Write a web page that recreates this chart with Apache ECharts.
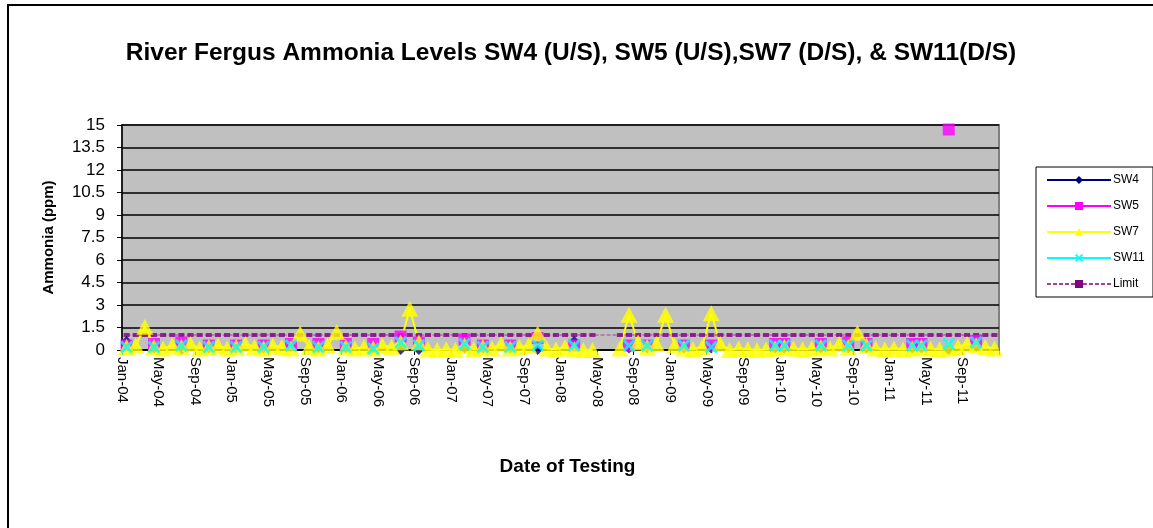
<!DOCTYPE html>
<html>
<head>
<meta charset="utf-8">
<title>River Fergus Ammonia Levels</title>
<script src="https://cdn.jsdelivr.net/npm/echarts@6/dist/echarts.min.js"></script>
<style>
  html, body { margin: 0; padding: 0; background: #fff; }
  #chart { width: 1153px; height: 528px; }
</style>
</head>
<body>
<div id="chart"></div>
<script>
// x values are months counted from Jan-04 (0 = Jan-04, 96 = Jan-12)
var xTickLabels = ['Jan-04', 'May-04', 'Sep-04', 'Jan-05', 'May-05', 'Sep-05', 'Jan-06', 'May-06',
    'Sep-06', 'Jan-07', 'May-07', 'Sep-07', 'Jan-08', 'May-08', 'Sep-08', 'Jan-09',
    'May-09', 'Sep-09', 'Jan-10', 'May-10', 'Sep-10', 'Jan-11', 'May-11', 'Sep-11'];

// quarterly-ish sampling for SW4, SW5, SW11
var qMonths = [0.5, 3.5, 6.5, 9.5, 12.5, 15.5, 18.5, 21.5, 24.5, 27.5, 30.5, 32.5, 37.5, 39.5, 42.5,
    45.5, 49.5, 55.5, 57.5, 61.5, 64.5, 71.5, 72.5, 76.5, 79.5, 81.5, 86.5, 87.5, 90.5, 93.5];

var sw4Values = [0.6, 0.1, 0.0, 0.1, 0.1, 0.1, 0.2, 0.1, 0.1, 0.1, 0.0, 0.0, 0.1, 0.1, 0.1,
    0.0, 0.6, 0.1, 0.1, 0.1, 0.1, 0.1, 0.1, 0.1, 0.1, 0.1, 0.1, 0.1, 0.0, 0.2];

var sw5Values = [0.3, 0.4, 0.5, 0.3, 0.3, 0.3, 0.4, 0.4, 0.4, 0.4, 0.9, 0.5, 0.7, 0.3, 0.3,
    0.8, 0.3, 0.3, 0.3, 0.3, 0.3, 0.4, 0.4, 0.4, 0.5, 0.4, 0.4, 0.4, 14.7, 0.6];

var sw11Values = [0.2, 0.2, 0.3, 0.2, 0.2, 0.2, 0.3, 0.2, 0.2, 0.1, 0.5, 0.3, 0.4, 0.2, 0.2,
    0.3, 0.3, 0.3, 0.3, 0.3, 0.2, 0.3, 0.3, 0.3, 0.3, 0.3, 0.3, 0.3, 0.4, 0.5];

// SW7 sampled roughly monthly
var sw7Months = [0.5, 1.5, 2.5, 3.5, 4.5, 5.5, 6.5, 7.5, 8.5, 9.5, 10.5, 11.5, 12.5, 13.5, 14.5,
    15.5, 16.5, 17.5, 18.5, 19.5, 20.5, 21.5, 22.5, 23.5, 24.5, 25.5, 26.5, 27.5, 28.5, 29.5,
    30.5, 31.5, 32.5, 33.5, 34.5, 35.5, 36.5, 37.5, 38.5, 39.5, 40.5, 41.5, 42.5, 43.5, 44.5,
    45.5, 46.5, 47.5, 48.5, 49.5, 50.5, 51.5, 54.5, 55.5, 56.5, 57.5, 58.5, 59.5, 60.5, 61.5,
    62.5, 63.5, 64.5, 65.5, 66.5, 67.5, 68.5, 69.5, 70.5, 71.5, 72.5, 73.5, 74.5, 75.5, 76.5,
    77.5, 78.5, 79.5, 80.5, 81.5, 82.5, 83.5, 84.5, 85.5, 86.5, 87.5, 88.5, 89.5, 90.5, 91.5,
    92.5, 93.5, 94.5, 95.5];

var sw7Values = [0.2, 0.3, 1.55, 0.2, 0.1, 0.3, 0.2, 0.4, 0.1, 0.2, 0.3, 0.1, 0.2, 0.4, 0.2,
    0.1, 0.3, 0.2, 0.1, 1.1, 0.2, 0.1, 0.3, 1.2, 0.2, 0.1, 0.2, 0.1, 0.3, 0.2,
    0.5, 2.75, 0.5, 0.05, 0.0, 0.05, 0.0, 0.3, 0.05, 0.2, 0.1, 0.4, 0.1, 0.2, 0.3,
    1.1, 0.1, 0.05, 0.2, 0.05, 0.0, 0.0, 0.1, 2.35, 0.5, 0.2, 0.4, 2.35, 0.3, 0.1,
    0.05, 0.2, 2.45, 0.4, 0.0, 0.1, 0.05, 0.0, 0.05, 0.1, 0.2, 0.1, 0.05, 0.1, 0.2,
    0.1, 0.4, 0.2, 1.15, 0.3, 0.1, 0.05, 0.1, 0.05, 0.1, 0.2, 0.1, 0.05, 0.1, 0.2,
    0.4, 0.3, 0.2, 0.1];

var limitLevel = 1.0;

var FONT = 'Liberation Sans';

// rows without a reading are blank in the sheet, so the line breaks across them
function withBreaks(xs, ys) {
    var out = [];
    for (var i = 0; i < xs.length; i++) {
        if (i > 0 && xs[i] - xs[i - 1] > 1.5) out.push([(xs[i] + xs[i - 1]) / 2, '-']);
        out.push([xs[i], ys[i]]);
    }
    return out;
}

var limitData = [];
for (var j = 0; j < sw7Months.length; j++) limitData.push([sw7Months[j], limitLevel]);

var crossPath = 'path://M0,1.6 L1.6,0 L5,3.4 L8.4,0 L10,1.6 L6.6,5 L10,8.4 L8.4,10 L5,6.6 L1.6,10 L0,8.4 L3.4,5 Z';

var stations = [
    {name: 'SW4', data: withBreaks(qMonths, sw4Values), color: '#000080', symbol: 'diamond', size: 10},
    {name: 'SW5', data: withBreaks(qMonths, sw5Values), color: '#FF00FF', symbol: 'rect', size: 12},
    {name: 'SW7', data: withBreaks(sw7Months, sw7Values), color: '#FFFF00', symbol: 'triangle', size: [17, 16]},
    {name: 'SW11', data: withBreaks(qMonths, sw11Values), color: '#00FFFF', symbol: crossPath, size: 13}
];

// lines first (like Excel), then markers on top of all lines
var series = [];
stations.forEach(function (s) {
    series.push({
        name: s.name, type: 'line', data: s.data, z: 2, connectNulls: false,
        symbol: s.symbol, symbolSize: s.size, showSymbol: false,
        lineStyle: {color: s.color, width: 2},
        itemStyle: {color: s.color}
    });
});
series.push({
    name: 'Limit', type: 'line', data: limitData, z: 2,
    symbol: 'rect', symbolSize: [6, 4], showSymbol: false,
    lineStyle: {color: '#A040A0', width: 1, type: [4, 2]},
    itemStyle: {color: '#800080'}
});
series.push({
    name: 'Limit', type: 'scatter', data: limitData, z: 3,
    symbol: 'rect', symbolSize: [6, 4],
    itemStyle: {color: '#800080'}
});
stations.forEach(function (s) {
    series.push({
        name: s.name, type: 'scatter', data: s.data, z: 3,
        symbol: s.symbol, symbolSize: s.size,
        itemStyle: {color: s.color}
    });
});

var chart = echarts.init(document.getElementById('chart'), null, {renderer: 'canvas'});

chart.setOption({
    animation: false,
    backgroundColor: '#ffffff',
    title: {
        text: 'River Fergus Ammonia Levels SW4 (U/S), SW5 (U/S),SW7 (D/S), & SW11(D/S)',
        left: 566, top: 36, textAlign: 'center',
        textStyle: {fontFamily: FONT, fontSize: 24.5, fontWeight: 'bold', color: '#000'}
    },
    legend: {
        orient: 'vertical',
        left: 1041, top: 169,
        itemGap: 14,
        itemWidth: 64, itemHeight: 10,
        textStyle: {fontFamily: FONT, fontSize: 12, color: '#000', padding: [0, 0, 0, -3]},
        data: ['SW4', 'SW5', 'SW7', 'SW11', 'Limit']
    },
    graphic: [
        {type: 'rect', shape: {x: 8, y: 5, width: 1200, height: 600}, silent: true, z: -1,
            style: {fill: 'none', stroke: '#000', lineWidth: 2}},
        {type: 'rect', shape: {x: 1036, y: 167, width: 117, height: 130}, silent: true, z: -1,
            style: {fill: '#fff', stroke: '#000', lineWidth: 1}}
    ],
    grid: {
        left: 122, right: 154, top: 125, bottom: 178,
        show: true, backgroundColor: '#C0C0C0', borderColor: '#808080', borderWidth: 2
    },
    xAxis: {
        type: 'value', min: 0, max: 96, interval: 4,
        name: 'Date of Testing', nameLocation: 'middle', nameGap: 107,
        nameTextStyle: {fontFamily: FONT, fontSize: 19, fontWeight: 'bold', color: '#000',
            padding: [0, 0, 0, 14]},
        axisLine: {onZero: false, lineStyle: {color: '#000', width: 1.5}},
        axisTick: {show: true, length: 5, lineStyle: {color: '#000'}},
        splitLine: {show: false},
        axisLabel: {
            rotate: -90, margin: 7, fontFamily: FONT, fontSize: 15, color: '#000',
            showMaxLabel: true,
            formatter: function (v) { return xTickLabels[Math.round(v / 4)] || ''; }
        }
    },
    yAxis: {
        type: 'value', min: 0, max: 15, interval: 1.5,
        name: 'Ammonia (ppm)', nameLocation: 'middle', nameGap: 66, nameRotate: 90,
        nameTextStyle: {fontFamily: FONT, fontSize: 15, fontWeight: 'bold', color: '#000'},
        axisLine: {show: true, lineStyle: {color: '#000', width: 1.5}},
        axisTick: {show: true, length: 5, lineStyle: {color: '#000'}},
        splitLine: {show: true, lineStyle: {color: '#000', width: 1.5}},
        axisLabel: {
            margin: 17, fontFamily: FONT, fontSize: 17, color: '#000',
            formatter: function (v) { return String(Math.round(v * 10) / 10); }
        }
    },
    series: series
});
</script>
</body>
</html>
